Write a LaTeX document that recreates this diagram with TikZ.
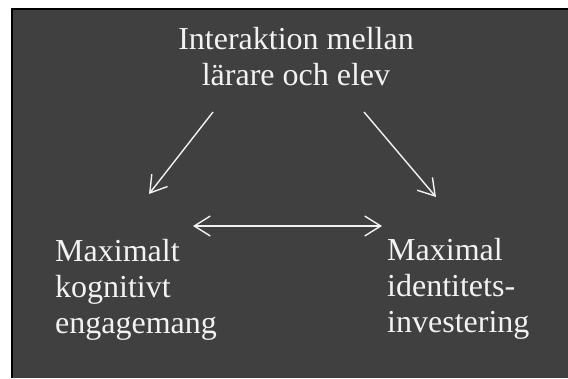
\documentclass[tikz,border=0pt]{standalone}
\usepackage{fontspec}
\setmainfont{Liberation Serif}
\usetikzlibrary{arrows.meta}
\definecolor{bg}{HTML}{404040}
\definecolor{fg}{HTML}{F2F2F2}
\tikzset{
  lbl/.style={text=fg, inner sep=0pt, align=left, font=\fontsize{32}{36}\selectfont},
  conn/.style={draw=fg, line width=1.4pt, -{Straight Barb[length=16pt,width=20pt,line width=1.4pt]}},
  conn2/.style={draw=fg, line width=1.4pt, {Straight Barb[length=16pt,width=20pt,line width=1.4pt]}-{Straight Barb[length=16pt,width=20pt,line width=1.4pt]}}
}
\begin{document}
\begin{tikzpicture}[x=1pt,y=-1pt]
\useasboundingbox (0,0) rectangle (568,378);
\fill[white] (0,0) rectangle (568,378);
\fill[gray!60] (10.5,7.5) rectangle (568,378);
\fill[black] (11.3,8.3) rectangle (568,378);
\fill[bg] (12.5,9.5) rectangle (568,378);
\node[lbl, align=center, anchor=north] (top) at (296,27.5) {Interaktion mellan\\lärare och elev};
\node[lbl, anchor=north west] (left) at (55,239.5) {Maximalt\\kognitivt\\engagemang};
\node[lbl, anchor=north west] (right) at (387,238.5) {Maximal\\identitets-\\investering};
\coordinate (l1) at (213,112);
\coordinate (l2) at (149,194);
\coordinate (r1) at (364,112);
\coordinate (r2) at (436,197);
\coordinate (m1) at (193,226);
\coordinate (m2) at (382,226);
\draw[conn] (l1) -- (l2);
\draw[conn] (r1) -- (r2);
\draw[conn2] (m1) -- (m2);
\end{tikzpicture}
\end{document}
